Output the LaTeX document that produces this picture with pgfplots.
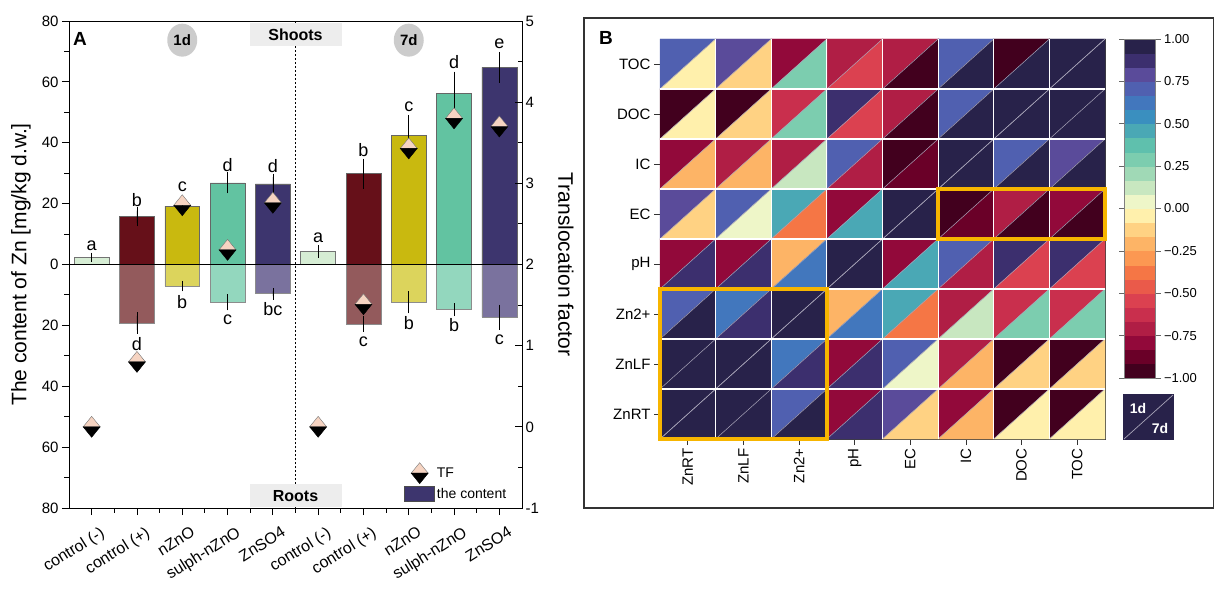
\documentclass[border=0pt]{standalone}
\usepackage{pgfplots}
\pgfplotsset{compat=1.18}
\usepackage{pgfplotstable}
\usepackage{fontspec}
\setmainfont{Liberation Sans}
\usetikzlibrary{shapes.geometric}
\newcommand\fs[1]{\fontsize{#1}{#1}\selectfont}

\definecolor{cneg}{HTML}{D6EDD4}
\definecolor{cpos}{HTML}{661019}
\definecolor{cnzno}{HTML}{C9B90F}
\definecolor{csul}{HTML}{62C3A1}
\definecolor{cznso}{HTML}{3D356E}
\definecolor{rpos}{HTML}{935A5C}
\definecolor{rnzno}{HTML}{DCD45C}
\definecolor{rsul}{HTML}{93D7BE}
\definecolor{rznso}{HTML}{7A729E}
\definecolor{tfpeach}{HTML}{F6D4C2}
\definecolor{hlorange}{HTML}{F7B500}
\definecolor{navybox}{HTML}{28224A}
\definecolor{diagc}{HTML}{A8A4B8}

\pgfdeclareplotmark{halfdiamond}{%
  \pgfsetlinewidth{0.4pt}%
  \pgfpathmoveto{\pgfqpoint{-8.5pt}{0pt}}%
  \pgfpathlineto{\pgfqpoint{0pt}{10.5pt}}%
  \pgfpathlineto{\pgfqpoint{8.5pt}{0pt}}%
  \pgfpathclose
  \pgfsetfillcolor{tfpeach}\pgfsetstrokecolor{black!55}%
  \pgfusepath{fill,stroke}%
  \pgfpathmoveto{\pgfqpoint{-8.5pt}{0pt}}%
  \pgfpathlineto{\pgfqpoint{0pt}{-10.5pt}}%
  \pgfpathlineto{\pgfqpoint{8.5pt}{0pt}}%
  \pgfpathclose
  \pgfsetfillcolor{black}\pgfsetstrokecolor{black}%
  \pgfusepath{fill,stroke}%
}
\pgfdeclareplotmark{tri1d}{%
  \pgfpathmoveto{\pgfqpoint{-27.8125pt}{-25pt}}%
  \pgfpathlineto{\pgfqpoint{-27.8125pt}{25pt}}%
  \pgfpathlineto{\pgfqpoint{27.8125pt}{25pt}}%
  \pgfpathclose\pgfusepathqfillstroke}
\pgfdeclareplotmark{tri7d}{%
  \pgfpathmoveto{\pgfqpoint{-27.8125pt}{-25pt}}%
  \pgfpathlineto{\pgfqpoint{27.8125pt}{-25pt}}%
  \pgfpathlineto{\pgfqpoint{27.8125pt}{25pt}}%
  \pgfpathclose\pgfusepathqfillstroke}

\pgfplotsset{
  barA/.style={ybar, bar width=0.77, bar shift=0pt, line width=0.6pt,
    error bars/y dir=both, error bars/y explicit,
    error bars/error bar style={black, line width=0.7pt},
    error bars/error mark options={black, mark size=3.5pt, line width=0.7pt}},
}

% correlation matrix: x = column (ZnRT..TOC), y = row (ZnRT..TOC), v1 = 1 d, v7 = 7 d
\pgfplotstableread{
x y v1 v7
0.5 7.5 0.71 -0.04
1.5 7.5 0.79 -0.125
2.5 7.5 -0.79 0.29
3.5 7.5 -0.71 -0.54
4.5 7.5 -0.71 -0.96
5.5 7.5 0.71 0.96
6.5 7.5 -0.96 0.96
7.5 7.5 0.96 0.96
0.5 6.5 -0.96 -0.04
1.5 6.5 -0.96 -0.125
2.5 6.5 -0.625 0.29
3.5 6.5 0.875 -0.54
4.5 6.5 -0.71 -0.96
5.5 6.5 0.71 0.96
6.5 6.5 0.96 0.96
7.5 6.5 0.96 0.96
0.5 5.5 -0.79 -0.21
1.5 5.5 -0.71 -0.21
2.5 5.5 -0.71 0.125
3.5 5.5 0.71 -0.71
4.5 5.5 -0.96 -0.875
5.5 5.5 0.96 0.96
6.5 5.5 0.71 0.96
7.5 5.5 0.79 0.96
0.5 4.5 0.79 -0.125
1.5 4.5 0.71 0.04
2.5 4.5 0.46 -0.375
3.5 4.5 -0.79 0.46
4.5 4.5 0.96 0.96
5.5 4.5 -0.96 -0.875
6.5 4.5 -0.71 -0.96
7.5 4.5 -0.79 -0.96
0.5 3.5 -0.79 0.875
1.5 3.5 -0.79 0.875
2.5 3.5 -0.21 0.625
3.5 3.5 0.96 0.96
4.5 3.5 -0.79 0.46
5.5 3.5 0.71 -0.71
6.5 3.5 0.875 -0.54
7.5 3.5 0.875 -0.54
0.5 2.5 0.71 0.96
1.5 2.5 0.625 0.875
2.5 2.5 0.96 0.96
3.5 2.5 -0.21 0.625
4.5 2.5 0.46 -0.375
5.5 2.5 -0.71 0.125
6.5 2.5 -0.625 0.29
7.5 2.5 -0.625 0.29
0.5 1.5 0.96 0.96
1.5 1.5 0.96 0.96
2.5 1.5 0.625 0.875
3.5 1.5 -0.79 0.875
4.5 1.5 0.71 0.04
5.5 1.5 -0.71 -0.21
6.5 1.5 -0.96 -0.125
7.5 1.5 -0.96 -0.125
0.5 0.5 0.96 0.96
1.5 0.5 0.96 0.96
2.5 0.5 0.71 0.96
3.5 0.5 -0.79 0.875
4.5 0.5 0.79 -0.125
5.5 0.5 -0.79 -0.21
6.5 0.5 -0.96 -0.04
7.5 0.5 -0.96 -0.04
}\corr

\begin{document}
\begin{tikzpicture}
\path[use as bounding box] (0pt,0pt) rectangle (1214pt,590pt);

%================ Panel A : content =================
\begin{axis}[
  at={(69pt,82pt)}, anchor=south west, scale only axis,
  width=453pt, height=487pt,
  xmin=-0.5, xmax=9.5, ymin=-80, ymax=80, clip=false,
  axis line style={line width=0.9pt, black},
  tick pos=left, tick align=outside,
  major tick length=7pt, minor tick length=4.5pt,
  every tick/.style={black, line width=0.9pt},
  xtick={0,...,9},
  xticklabels={control (-),control (+),nZnO,sulph-nZnO,ZnSO4,control (-),control (+),nZnO,sulph-nZnO,ZnSO4},
  minor xtick={0.5,1.5,...,8.5},
  ytick={-80,-60,...,80}, yticklabels={80,60,40,20,0,20,40,60,80},
  minor ytick={-70,-50,...,70},
  xticklabel style={font=\fs{16}, rotate=32, anchor=north east, inner sep=0pt, xshift=1pt, yshift=-13pt},
  yticklabel style={font=\fs{15}},
  ylabel={The content of Zn [mg/kg d.w.]},
  every axis y label/.style={at={(axis description cs:-0.106,0.5)}, rotate=90, anchor=center, font=\fs{21}},
]
% separator and title boxes
\draw[black, line width=0.6pt, dash pattern=on 2pt off 2pt] (axis cs:4.5,-80) -- (axis cs:4.5,80);
\node[fill=black!7, minimum width=92pt, minimum height=23pt, inner sep=0pt, font=\bfseries\fs{16}] at (axis cs:4.5,75.4) {Shoots};
\node[fill=black!7, minimum width=92pt, minimum height=23pt, inner sep=0pt, font=\bfseries\fs{16}] at (axis cs:4.5,-76.0) {Roots};
\node[ellipse, fill=black!20, minimum width=30pt, minimum height=33pt, inner sep=0pt, font=\bfseries\fs{15}] at (axis cs:2,73.7) {1d};
\node[ellipse, fill=black!20, minimum width=30pt, minimum height=33pt, inner sep=0pt, font=\bfseries\fs{15}] at (axis cs:7,73.7) {7d};

% shoots
\addplot[barA, fill=cneg, draw=black!55] coordinates {(0,2.4) +- (0,0.35) (5,4.2) +- (0,0.9)};
\addplot[barA, fill=cpos, draw=black!60] coordinates {(1,15.7) +- (0,2.0) (6,29.8) +- (0,3.8)};
\addplot[barA, fill=cnzno, draw=black!60] coordinates {(2,19.2) +- (0,1.2) (7,42.5) +- (0,5.5)};
\addplot[barA, fill=csul, draw=black!60] coordinates {(3,26.8) +- (0,2.3) (8,56.3) +- (0,5.9)};
\addplot[barA, fill=cznso, draw=black!60] coordinates {(4,26.5) +- (0,2.2) (9,64.8) +- (0,3.9)};
% roots
\addplot[barA, fill=rpos, draw=black!45] coordinates {(1,-19.2) +- (0,2.35) (6,-19.5) +- (0,1.5)};
\addplot[barA, fill=rnzno, draw=black!45] coordinates {(2,-7.1) +- (0,0.6) (7,-12.4) +- (0,2.5)};
\addplot[barA, fill=rsul, draw=black!45] coordinates {(3,-12.4) +- (0,1.5) (8,-14.8) +- (0,1.0)};
\addplot[barA, fill=rznso, draw=black!45] coordinates {(4,-9.6) +- (0,0.8) (9,-17.3) +- (0,3.0)};

\draw[black, line width=1pt] (axis cs:-0.5,0) -- (axis cs:9.5,0);

% significance letters
\begin{scope}[every node/.style={font=\fs{18}, inner sep=0pt}]
\node at (axis cs:0,6.2) {a};
\node at (axis cs:1,21.3) {b};
\node at (axis cs:2,25.5) {c};
\node at (axis cs:3,32.8) {d};
\node at (axis cs:4,32.5) {d};
\node at (axis cs:5,8.8) {a};
\node at (axis cs:6,37.5) {b};
\node at (axis cs:7,51.8) {c};
\node at (axis cs:8,66.4) {d};
\node at (axis cs:9,72.6) {e};
\node at (axis cs:1,-26.1) {d};
\node at (axis cs:2,-12.4) {b};
\node at (axis cs:3,-18.1) {c};
\node at (axis cs:4,-14.8) {bc};
\node at (axis cs:6,-25.5) {c};
\node at (axis cs:7,-19.2) {b};
\node at (axis cs:8,-20.0) {b};
\node at (axis cs:9,-24.6) {c};
\end{scope}
\end{axis}

%================ Panel A : translocation factor =================
\begin{axis}[
  at={(69pt,82pt)}, anchor=south west, scale only axis,
  width=453pt, height=487pt,
  xmin=-0.5, xmax=9.5, ymin=-1, ymax=5, clip=false,
  axis x line=none, axis y line*=right,
  axis line style={line width=0.9pt, black},
  tick align=inside, major tick length=7pt, minor tick length=4.5pt,
  every tick/.style={black, line width=0.9pt},
  ytick={-1,0,...,5}, yticklabels={-1,0,1,2,3,4,5},
  minor ytick={-0.5,0.5,...,4.5},
  yticklabel style={font=\fs{15}},
  ylabel={Translocation factor},
  every axis y label/.style={at={(axis description cs:1.097,0.5)}, rotate=-90, anchor=center, font=\fs{21}},
  legend style={at={(0.74,0.012)}, anchor=south west, draw=none, fill=none,
    font=\fs{14}, inner sep=0pt, row sep=2pt,
    /tikz/every even column/.append style={column sep=3pt}},
  legend cell align=left,
]
\addplot[only marks, mark=halfdiamond,
  legend image code/.code={\pgftransformshift{\pgfqpoint{15pt}{0pt}}\pgfuseplotmark{halfdiamond}}]
  coordinates {(0,0) (1,0.80) (2,2.73) (3,2.18) (4,2.76) (5,0) (6,1.51) (7,3.43) (8,3.80) (9,3.70)};
\addlegendentry{TF}
\addlegendimage{legend image code/.code={\draw[fill=cznso, draw=black!70, line width=0.5pt] (0pt,-7pt) rectangle (30pt,8pt);}}
\addlegendentry{the content}
\end{axis}

\node[font=\bfseries\fs{19}] at (80pt,551pt) {A};

%================ Panel B =================
\draw[black!80, line width=1.2pt] (584pt,82pt) rectangle (1213.4pt,572pt);
\node[font=\bfseries\fs{19}] at (606pt,552pt) {B};

\begin{axis}[
  at={(660pt,151pt)}, anchor=south west, scale only axis,
  width=445pt, height=400pt,
  xmin=0, xmax=8, ymin=0, ymax=8, clip=false, clip marker paths=true,
  colormap={corrmap}{rgb255=(66,0,30) rgb255=(106,0,40) rgb255=(146,9,58) rgb255=(176,30,69)
    rgb255=(201,47,77) rgb255=(219,65,80) rgb255=(234,90,74) rgb255=(245,118,69)
    rgb255=(252,152,82) rgb255=(253,180,102) rgb255=(255,210,131) rgb255=(255,240,172)
    rgb255=(238,246,200) rgb255=(200,231,192) rgb255=(160,217,182) rgb255=(124,205,175)
    rgb255=(95,192,173) rgb255=(74,168,181) rgb255=(58,143,191) rgb255=(66,119,189)
    rgb255=(80,96,176) rgb255=(90,75,154) rgb255=(60,47,110) rgb255=(40,34,74)},
  colormap access=piecewise constant,
  point meta min=-1, point meta max=1,
  xtick={0.5,1.5,2.5,3.5,4.5,5.5,6.5,7.5},
  ytick={0.5,1.5,2.5,3.5,4.5,5.5,6.5,7.5},
  xticklabels={ZnRT,ZnLF,Zn2+,pH,EC,IC,DOC,TOC},
  yticklabels={ZnRT,ZnLF,Zn2+,pH,EC,IC,DOC,TOC},
  tick pos=left, tick align=outside, major tick length=6pt,
  every tick/.style={black!80, line width=0.8pt},
  axis line style={black!75, line width=0.8pt},
  xticklabel style={rotate=90, anchor=east, font=\fs{15}},
  yticklabel style={font=\fs{15}},
  colorbar,
  colorbar style={at={(1.0427,1)}, anchor=north west, scale only axis,
    width=31.5pt, height=339pt,
    ytick={-1,-0.75,-0.5,-0.25,0,0.25,0.5,0.75,1},
    yticklabels={−1.00,−0.75,−0.50,−0.25,0.00,0.25,0.50,0.75,1.00},
    yticklabel style={font=\fs{13}},
    tick align=outside, major tick length=5pt,
    axis line style={black!50, line width=0.5pt},
    every tick/.style={black!60, line width=0.6pt}},
]
\addplot[scatter, only marks, mark=tri1d, point meta=explicit,
  scatter/use mapped color={draw=mapped color, fill=mapped color}, line width=0.3pt]
  table[x=x, y=y, meta=v1] {\corr};
\addplot[scatter, only marks, mark=tri7d, point meta=explicit,
  scatter/use mapped color={draw=mapped color, fill=mapped color}, line width=0.3pt]
  table[x=x, y=y, meta=v7] {\corr};
\pgfplotsinvokeforeach{0,...,7}{
  \draw[diagc, line width=0.5pt] (axis cs:#1,0) -- (axis cs:8,{8-#1});
  \draw[diagc, line width=0.5pt] (axis cs:0,#1) -- (axis cs:{8-#1},8);
}
\pgfplotsinvokeforeach{1,...,7}{
  \draw[white, line width=1.2pt] (axis cs:#1,0) -- (axis cs:#1,8);
  \draw[white, line width=1.2pt] (axis cs:0,#1) -- (axis cs:8,#1);
}
\draw[hlorange, line width=4pt] (axis cs:0,0) rectangle (axis cs:3,3);
\draw[hlorange, line width=4pt] (axis cs:5,4) rectangle (axis cs:8,5);
\end{axis}

% 1d / 7d key
\fill[navybox] (1123pt,150pt) rectangle (1174pt,196pt);
\draw[diagc, line width=0.7pt] (1124pt,151pt) -- (1173pt,195pt);
\node[text=white, font=\bfseries\fs{14}] at (1138pt,182pt) {1d};
\node[text=white, font=\bfseries\fs{14}] at (1160pt,162pt) {7d};
\end{tikzpicture}
\end{document}
